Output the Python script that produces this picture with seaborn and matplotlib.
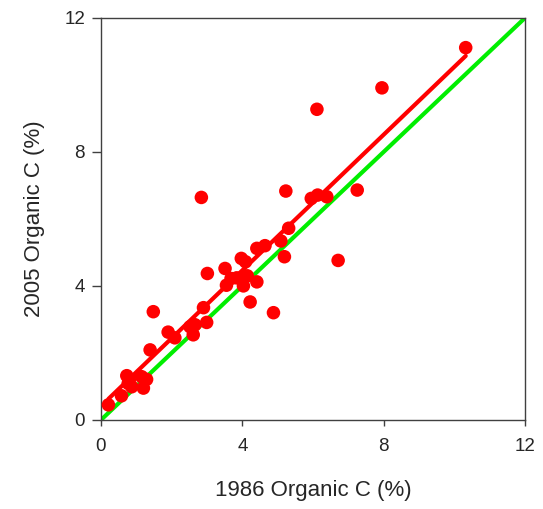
import numpy as np
import pandas as pd
import matplotlib
matplotlib.use("Agg")
import matplotlib.pyplot as plt
import seaborn as sns

sns.set_style("white")
plt.rcParams['font.family'] = ['Liberation Sans', 'DejaVu Sans']

oc_1986 = [0.21, 0.58, 0.73, 0.77, 0.87, 0.80, 1.20, 1.29, 1.15, 1.39, 1.48,
           1.90, 2.09, 2.52, 2.61, 2.66, 2.84, 2.90, 2.99, 3.01, 3.51, 3.55,
           3.68, 3.84, 3.97, 4.09, 4.03, 4.14, 4.22, 4.41, 4.41, 4.64, 4.88,
           5.09, 5.19, 5.23, 5.31, 5.95, 6.13, 6.39, 6.11, 6.71, 7.25, 7.95,
           10.32]
oc_2005 = [0.45, 0.72, 1.32, 1.09, 0.99, 1.20, 0.95, 1.21, 1.29, 2.09, 3.23,
           2.62, 2.45, 2.78, 2.54, 2.84, 6.64, 3.35, 2.91, 4.37, 4.52, 4.02,
           4.22, 4.24, 4.82, 4.72, 4.00, 4.30, 3.52, 4.12, 5.12, 5.20, 3.20,
           5.34, 4.87, 6.83, 5.72, 6.61, 6.71, 6.66, 9.27, 4.76, 6.86, 9.91,
           11.11]
ticks = [0, 4, 8, 12]

df = pd.DataFrame({"x": oc_1986, "y": oc_2005})

fig = plt.figure(figsize=(5.43, 5.09), dpi=100)
ax = fig.add_axes([0.186, 0.175, 0.781, 0.790])

ax.plot([0, 12], [0, 12], color="#00ee00", lw=3, zorder=1, solid_capstyle="butt")
sns.regplot(data=df, x="x", y="y", ci=None, ax=ax,
            scatter_kws=dict(s=95, color="#ff0000", edgecolor="none", alpha=1, zorder=3),
            line_kws=dict(color="#ff0000", lw=3, zorder=2))

ax.set_xlim(0, 12)
ax.set_ylim(0, 12)
ax.set_xticks(ticks)
ax.set_yticks(ticks)
ax.set_xticklabels([str(t) for t in ticks])
ax.set_yticklabels([str(t) for t in ticks])
ax.tick_params(axis="both", direction="out", width=1, color="#404040",
               labelsize=13.5, bottom=True, left=True, top=False, right=False)
ax.tick_params(axis="x", length=4, pad=9)
ax.tick_params(axis="y", length=6.5, pad=5)
for s in ax.spines.values():
    s.set_color("#404040")
    s.set_linewidth(1)
ax.set_xlabel("1986 Organic C (%)", fontsize=16, labelpad=18)
ax.set_ylabel("2005 Organic C (%)", fontsize=16, labelpad=14)

fig.savefig("out.png", dpi=100)
